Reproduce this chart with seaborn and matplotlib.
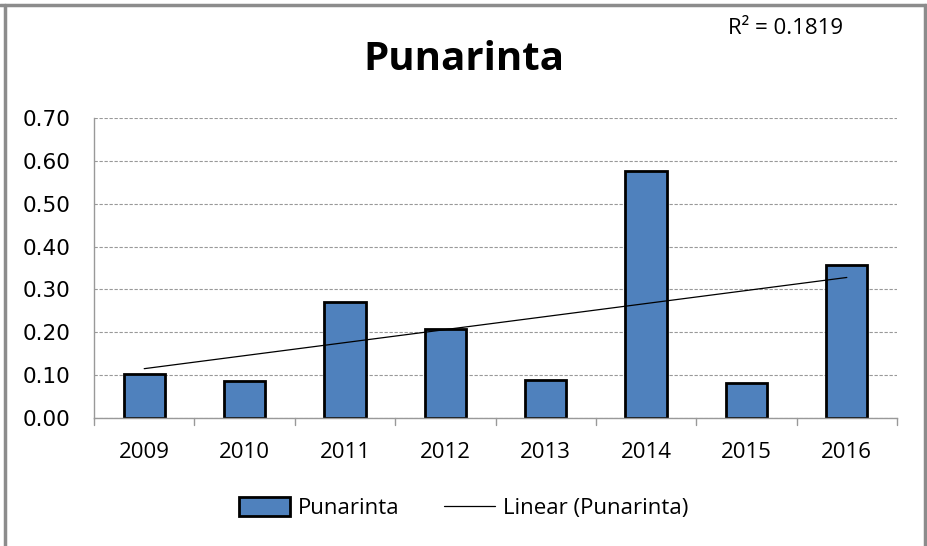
import numpy as np
import matplotlib.pyplot as plt
import seaborn as sns
from matplotlib.patches import Patch
from matplotlib.lines import Line2D

years = ['2009', '2010', '2011', '2012', '2013', '2014', '2015', '2016']
values = [0.103, 0.086, 0.271, 0.208, 0.089, 0.576, 0.082, 0.357]
r2_label = 'R² = 0.1819'

sns.set_theme(style='white')
plt.rcParams['font.family'] = ['Open Sans', 'DejaVu Sans']
plt.rcParams['text.color'] = 'black'
plt.rcParams['xtick.color'] = 'black'
plt.rcParams['ytick.color'] = 'black'

fig = plt.figure(figsize=(9.27, 5.46), dpi=100)
ax = fig.add_axes([94 / 927, 128 / 546, 803 / 927, 300 / 546])

sns.barplot(x=years, y=values, color='#4F81BD', saturation=1,
            edgecolor='black', linewidth=2, width=0.41, ax=ax)

# linear trend
xs = np.arange(len(years))
slope, icpt = np.polyfit(xs, values, 1)
ax.plot(xs, slope * xs + icpt, color='black', linewidth=0.9)

ax.set_ylim(0, 0.70)
ax.set_xlim(-0.5, len(years) - 0.5)
ax.set_yticks(np.arange(0, 0.71, 0.1))
ax.set_yticklabels([f'{v:.2f}' for v in np.arange(0, 0.71, 0.1)],
                   family='DejaVu Sans', fontsize=15.5)
ax.yaxis.grid(True, linestyle=(0, (3, 1.5)), color='#999999', linewidth=0.8)
ax.set_axisbelow(True)
ax.tick_params(axis='x', length=0, labelsize=16, pad=17)
ax.tick_params(axis='y', length=0, pad=17)
for xb in np.arange(-0.5, len(years), 1):
    ax.plot([xb, xb], [0, -0.016], color='#999999', linewidth=1, clip_on=False)
for s in ['top', 'right']:
    ax.spines[s].set_visible(False)
for s in ['left', 'bottom']:
    ax.spines[s].set_color('#999999')
    ax.spines[s].set_linewidth(1)

fig.text(0.5, 1 - 59 / 546, 'Punarinta', ha='center', va='center',
         fontsize=29, fontweight='bold')
fig.text(786 / 927, 1 - 29 / 546, r2_label, ha='center', va='center', fontsize=16)

handles = [Patch(facecolor='#4F81BD', edgecolor='black', linewidth=2),
           Line2D([0], [0], color='black', linewidth=0.9)]
fig.legend(handles, ['Punarinta', 'Linear (Punarinta)'], loc='center',
           bbox_to_anchor=(0.5, 1 - 508 / 546), ncol=2, frameon=False,
           fontsize=16, handlelength=2.3, handleheight=0.9,
           columnspacing=2.0, handletextpad=0.35)

# outer frame
for x0, y0, x1, y1 in [(0, 1 - 5 / 546, 1, 1 - 5 / 546),
                       (5 / 927, 0, 5 / 927, 1 - 5 / 546),
                       (925 / 927, 0, 925 / 927, 1 - 5 / 546)]:
    fig.add_artist(Line2D([x0, x1], [y0, y1], color='#8c8c8c', linewidth=2.5))

fig.savefig('out.png', dpi=100)
